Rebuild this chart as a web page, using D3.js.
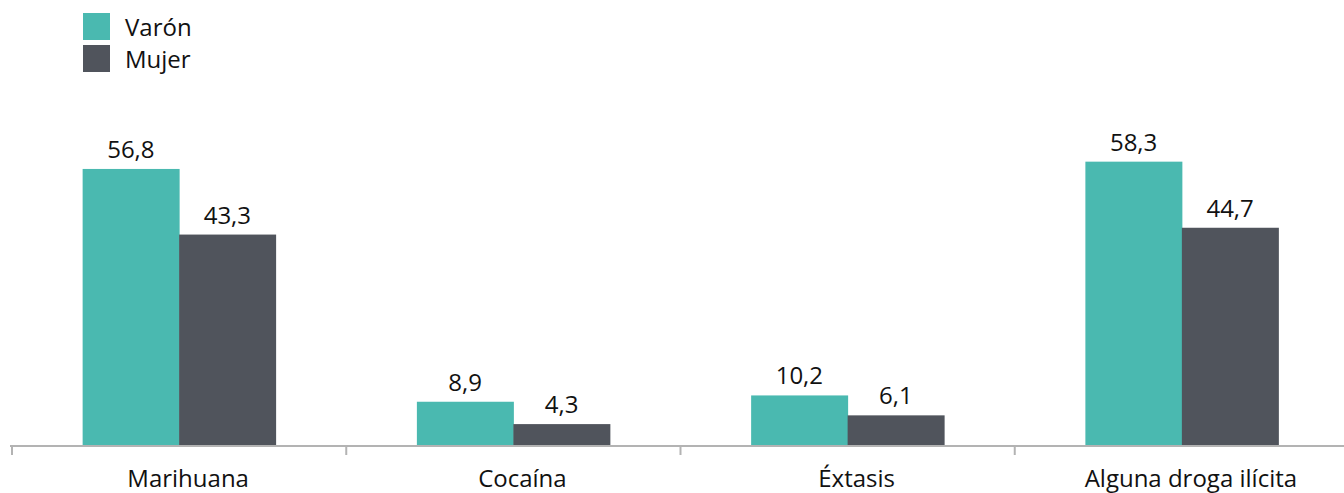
<!DOCTYPE html>
<html>
<head>
<meta charset="utf-8">
<script src="https://cdn.jsdelivr.net/npm/d3@7"></script>
<style>
  body { margin: 0; background: #fff; }
  svg { display: block; font-family: "Open Sans", sans-serif; }
</style>
</head>
<body>
<div id="chart"></div>
<script>
"use strict";

const categories = ["Marihuana", "Cocaína", "Éxtasis", "Alguna droga ilícita"];
const seriesNames = ["Varón", "Mujer"];
const varon = [56.8, 8.9, 10.2, 58.3];
const mujer = [43.3, 4.3, 6.1, 44.7];
const valueLabels = {
  "Varón": ["56,8", "8,9", "10,2", "58,3"],
  "Mujer": ["43,3", "4,3", "6,1", "44,7"]
};
const colors = ["#4ab9b0", "#50545c"];

const width = 1344, height = 493;
const baseline = 445;

const svg = d3.select("#chart")
  .append("svg")
  .attr("width", width)
  .attr("height", height);

const x0 = d3.scaleBand().domain(categories).range([12, 1349]).padding(0);
const x1 = d3.scaleBand().domain(seriesNames).range([0, x0.bandwidth()])
  .paddingInner(0).paddingOuter(0.732);
const y = d3.scaleLinear().domain([0, 60]).range([baseline, baseline - 291.6]);
const color = d3.scaleOrdinal().domain(seriesNames).range(colors);

const rows = categories.map((c, i) => ({
  cat: c,
  values: [
    { s: "Varón", v: varon[i], label: valueLabels["Varón"][i] },
    { s: "Mujer", v: mujer[i], label: valueLabels["Mujer"][i] }
  ]
}));

const groups = svg.selectAll("g.cat")
  .data(rows)
  .enter()
  .append("g")
  .attr("class", "cat")
  .attr("transform", d => `translate(${x0(d.cat)},0)`);

groups.selectAll("rect")
  .data(d => d.values)
  .enter()
  .append("rect")
  .attr("x", d => x1(d.s))
  .attr("y", d => y(d.v))
  .attr("width", x1.bandwidth() + 0.5)
  .attr("height", d => baseline - y(d.v))
  .attr("fill", d => color(d.s));

groups.selectAll("text.val")
  .data(d => d.values)
  .enter()
  .append("text")
  .attr("class", "val")
  .attr("x", d => x1(d.s) + x1.bandwidth() / 2)
  .attr("y", d => y(d.v) - 11)
  .attr("text-anchor", "middle")
  .attr("font-size", "24px")
  .attr("fill", "#111")
  .text(d => d.label);

// axis line with ticks at category boundaries
const axis = svg.append("g");
axis.append("line")
  .attr("x1", 10).attr("x2", width)
  .attr("y1", baseline + 1).attr("y2", baseline + 1)
  .attr("stroke", "#b3b3b3").attr("stroke-width", 2);

const tickXs = categories.map(c => x0(c)).concat([x0.range()[1]]);
axis.selectAll("line.tick")
  .data(tickXs)
  .enter()
  .append("line")
  .attr("class", "tick")
  .attr("x1", d => d).attr("x2", d => d)
  .attr("y1", baseline).attr("y2", baseline + 10)
  .attr("stroke", "#b3b3b3").attr("stroke-width", 2);

axis.selectAll("text")
  .data(categories)
  .enter()
  .append("text")
  .attr("x", d => x0(d) + x0.bandwidth() / 2 + 9)
  .attr("y", 487)
  .attr("text-anchor", "middle")
  .attr("font-size", "24px")
  .attr("fill", "#111")
  .text(d => d);

// legend
const legend = svg.append("g");
seriesNames.forEach((s, i) => {
  legend.append("rect")
    .attr("x", 83).attr("y", 13 + i * 32)
    .attr("width", 27).attr("height", 27)
    .attr("fill", color(s));
  legend.append("text")
    .attr("x", 125).attr("y", 36 + i * 32)
    .attr("font-size", "24px")
    .attr("fill", "#111")
    .text(s);
});
</script>
</body>
</html>
